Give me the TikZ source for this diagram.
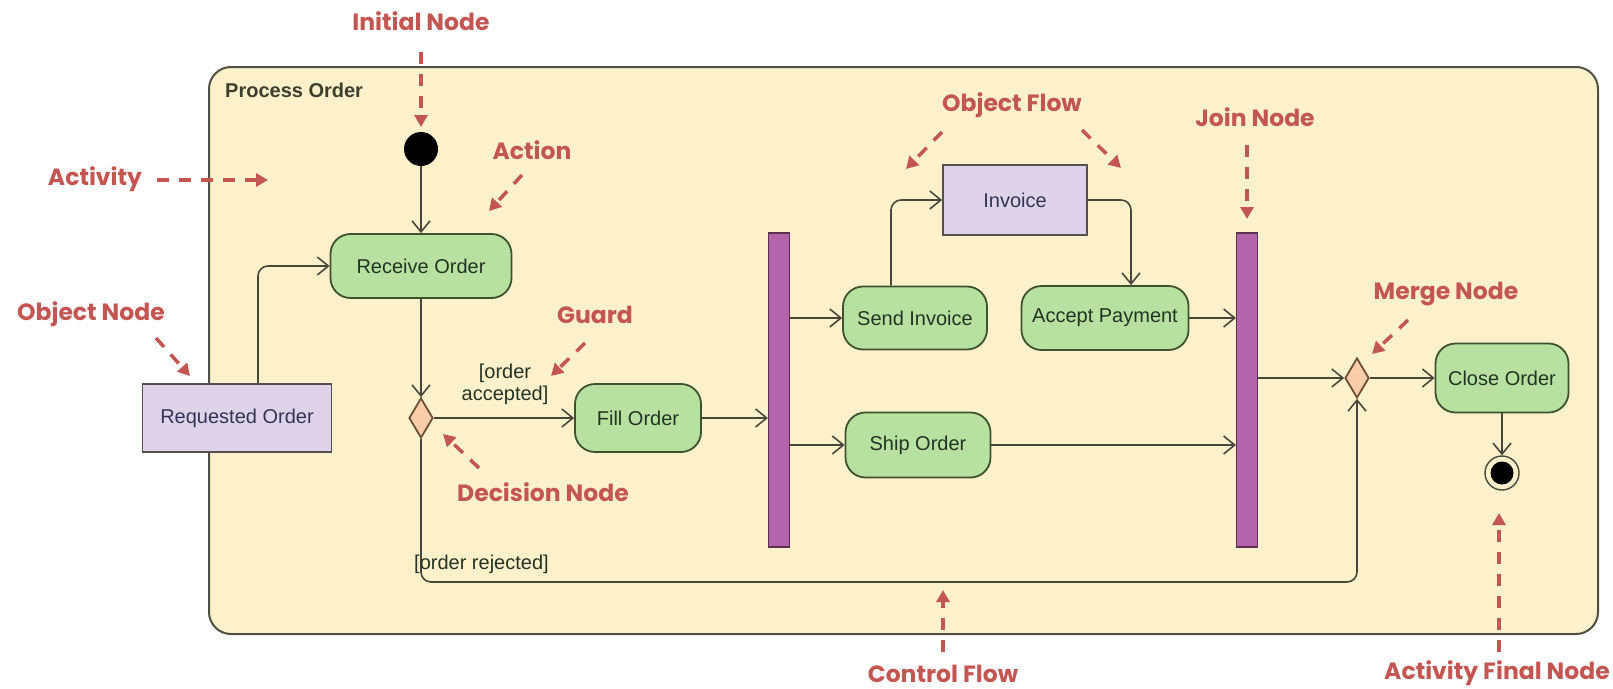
\documentclass[tikz,border=0pt]{standalone}
\usepackage{fontspec}
\setmainfont{Liberation Sans}
\newfontfamily\annfont{Poppins}
\usetikzlibrary{arrows.meta,shapes.geometric}

\definecolor{framefill}{RGB}{253,241,204}
\definecolor{frameline}{RGB}{80,80,66}
\definecolor{actfill}{RGB}{183,225,160}
\definecolor{actline}{RGB}{62,82,48}
\definecolor{objfill}{RGB}{221,212,234}
\definecolor{objline}{RGB}{85,80,80}
\definecolor{barfill}{RGB}{180,100,168}
\definecolor{barline}{RGB}{90,50,80}
\definecolor{decfill}{RGB}{250,205,170}
\definecolor{decline}{RGB}{110,80,50}
\definecolor{flowcol}{RGB}{72,72,58}
\definecolor{anncol}{RGB}{196,86,82}
\definecolor{acttext}{RGB}{36,52,36}
\definecolor{objtext}{RGB}{52,52,84}
\definecolor{titletext}{RGB}{62,62,44}

\begin{document}
\begin{tikzpicture}[x=1pt,y=-1pt,
  labelfont/.style={font=\fontsize{20}{23}\selectfont},
  action/.style={draw=actline, fill=actfill, line width=1.8pt, rounded corners=20pt,
    inner sep=0pt, labelfont, text=acttext},
  object/.style={draw=objline, fill=objfill, line width=1.8pt, inner sep=0pt,
    labelfont, text=objtext},
  syncbar/.style={draw=barline, fill=barfill, line width=1.2pt, inner sep=0pt,
    minimum width=21pt, minimum height=314pt},
  choice/.style={diamond, draw=decline, fill=decfill, line width=1.8pt, inner sep=0pt,
    minimum width=24pt, minimum height=40pt},
  flow/.style={draw=flowcol, line width=1.6pt, rounded corners=10pt,
    -{Straight Barb[length=11pt,width=18pt,line width=1.6pt]}},
  guard/.style={font=\fontsize{20}{22}\selectfont, text=acttext, inner sep=0pt, align=center},
  ann/.style={text=anncol, font=\annfont\bfseries\fontsize{23.5}{26}\selectfont, inner sep=0pt},
  annarrow/.style={draw=anncol, line width=3.5pt, dash pattern=on 12pt off 10pt,
    -{Triangle[length=12pt,width=13pt]}}]

% canvas
\fill[white] (0,0) rectangle (1613,688);
\useasboundingbox (0,0) rectangle (1613,688);

% activity frame
\node[draw=frameline, fill=framefill, line width=2pt, rounded corners=22pt,
  minimum width=1389pt, minimum height=567pt, inner sep=0pt] (activity) at (903.5,350.5) {};
\node[anchor=west, font=\bfseries\fontsize{20}{23}\selectfont, text=titletext, inner sep=0pt] (actname) at (225,90) {Process Order};

% nodes
\node[circle, fill=black, minimum size=34pt, inner sep=0pt] (init) at (421,149) {};
\node[action, minimum width=181pt, minimum height=64pt] (recv) at (421,266) {Receive Order};
\node[object, minimum width=189pt, minimum height=68pt] (req) at (237,418) {Requested Order};
\node[choice] (dec) at (421,418) {};
\node[action, minimum width=126pt, minimum height=68pt] (fill) at (638,418) {Fill Order};
\node[syncbar] (fork) at (779,390) {};
\node[action, minimum width=144pt, minimum height=63pt] (send) at (915,318) {Send Invoice};
\node[action, minimum width=145pt, minimum height=65pt] (ship) at (918,445) {Ship Order};
\node[object, minimum width=144pt, minimum height=70pt] (inv) at (1015,200) {Invoice};
\node[action, minimum width=167pt, minimum height=64pt] (pay) at (1105,318) {Accept Payment};
\node[syncbar] (join) at (1247,390) {};
\node[choice] (merge) at (1357,378) {};
\node[action, minimum width=133pt, minimum height=69pt] (close) at (1502,378) {Close Order};
\node[circle, draw=flowcol, line width=1.4pt, fill=framefill, minimum size=34pt, inner sep=0pt] (final) at (1502,473) {};
\fill[black] (final.center) circle (11.5pt);

% helper coordinates for bends
\coordinate (reqx) at (258,0);
\coordinate (sendx) at (891,0);
\coordinate (payx) at (1131,0);
\coordinate (rej) at (0,582);

% control and object flows
\draw[flow] (init) -- (recv);
\draw[flow] (req.north -| reqx) |- (recv.west);
\draw[flow] (recv) -- (dec);
\draw[flow] (dec.east) -- (fill.west |- dec.east);
\draw[flow] (fill.east) -- (fork.west |- fill.east);
\draw[flow] (fork.east |- send.west) -- (send.west);
\draw[flow] (fork.east |- ship.west) -- (ship.west);
\draw[flow] (send.north -| sendx) |- (inv.west);
\draw[flow] (inv.east) -| (pay.north -| payx);
\draw[flow] (pay.east) -- (join.west |- pay.east);
\draw[flow] (ship.east) -- (join.west |- ship.east);
\draw[flow] (join.east |- merge.west) -- (merge.west);
\draw[flow] (merge.east) -- (close.west |- merge.east);
\draw[flow] (close) -- (final);
\draw[flow] (dec.south) -- (dec.south |- rej) -- (merge.south |- rej) -- (merge.south);

% guards
\node[guard] (gacc) at (505,384) {[order\\accepted]};
\node[guard, anchor=west] (grej) at (414,564) {[order rejected]};

% callouts
\node[ann] (lInit) at (421,21) {Initial Node};
\node[ann] (lAct) at (95,179) {Activity};
\node[ann] (lAction) at (532,150) {Action};
\node[ann] (lObj) at (91,314) {Object Node};
\node[ann] (lGuard) at (595,315) {Guard};
\node[ann] (lDec) at (543,492) {Decision Node};
\node[ann] (lOF) at (1012,105) {Object Flow};
\node[ann] (lJoin) at (1255,117) {Join Node};
\node[ann] (lMerge) at (1446,294) {Merge Node};
\node[ann] (lCF) at (943,674) {Control Flow};
\node[ann] (lFin) at (1497,673) {Activity Final Node};

\coordinate (tInit) at (421,127);
\coordinate (tAct) at (268,180);
\coordinate (tAction) at (489,211);
\coordinate (tObj) at (190,376);
\coordinate (tGuard) at (551,376);
\coordinate (tDec) at (443,434);
\coordinate (tOF1) at (906,169);
\coordinate (tOF2) at (1121,168);
\coordinate (tJoin) at (1247,219);
\coordinate (tMerge) at (1372,354);
\coordinate (tCF) at (943,590);
\coordinate (tFin) at (1499,513);

\draw[annarrow] (421,52) -- (tInit);
\draw[annarrow] (157,180) -- (tAct);
\draw[annarrow] (522,175) -- (tAction);
\draw[annarrow] (156,338) -- (tObj);
\draw[annarrow] (585,343) -- (tGuard);
\draw[annarrow] (479,468) -- (tDec);
\draw[annarrow] (942,132) -- (tOF1);
\draw[annarrow] (1082,130) -- (tOF2);
\draw[annarrow] (1247,145) -- (tJoin);
\draw[annarrow] (1408,320) -- (tMerge);
\draw[annarrow] (943,652) -- (tCF);
\draw[annarrow] (1499,652) -- (tFin);
\end{tikzpicture}
\end{document}
